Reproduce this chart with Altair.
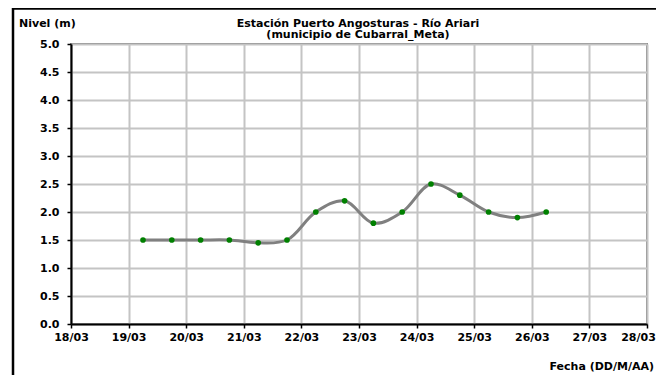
import altair as alt
import pandas as pd

# ---- data ----
times = [
    "2024-03-19T06:00:00Z", "2024-03-19T18:00:00Z",
    "2024-03-20T06:00:00Z", "2024-03-20T18:00:00Z",
    "2024-03-21T06:00:00Z", "2024-03-21T18:00:00Z",
    "2024-03-22T06:00:00Z", "2024-03-22T18:00:00Z",
    "2024-03-23T06:00:00Z", "2024-03-23T18:00:00Z",
    "2024-03-24T06:00:00Z", "2024-03-24T18:00:00Z",
    "2024-03-25T06:00:00Z", "2024-03-25T18:00:00Z",
    "2024-03-26T06:00:00Z",
]
levels = [1.5, 1.5, 1.5, 1.5, 1.45, 1.5, 2.0, 2.2, 1.8, 2.0, 2.5, 2.3, 2.0, 1.9, 2.0]
tick_days = [18, 19, 20, 21, 22, 23, 24, 25, 26, 27, 28]
y_ticks = [0.0, 0.5, 1.0, 1.5, 2.0, 2.5, 3.0, 3.5, 4.0, 4.5, 5.0]
title_lines = "Estación Puerto Angosturas - Río Ariari\n(municipio de Cubarral_Meta)"
y_title = "Nivel (m)"
x_title = "Fecha (DD/M/AA)"

FONT = "DejaVu Sans"
W, H = 576, 280

df = pd.DataFrame({"t": times, "nivel": levels})

common_axis = dict(
    title=None,
    grid=True,
    gridColor="#c4c4c4",
    gridWidth=2,
    domainColor="black",
    domainWidth=2,
    tickColor="black",
    tickWidth=1.5,
    tickSize=4,
    labelFont=FONT,
    labelFontSize=11,
    labelFontWeight="bold",
    labelColor="black",
    labelFlush=False,
    labelOverlap=False,
    labelBound=False,
)

x_enc = alt.X(
    "t:T",
    scale=alt.Scale(
        type="utc",
        domain=[alt.DateTime(year=2024, month=3, date=tick_days[0], utc=True),
                alt.DateTime(year=2024, month=3, date=tick_days[-1], utc=True)],
        nice=False,
    ),
    axis=alt.Axis(
        values=[alt.DateTime(year=2024, month=3, date=d, utc=True) for d in tick_days],
        labelExpr="utcFormat(datum.value, '%d/%m')",
        labelPadding=3,
        labelOffset={"condition": {"test": "datum.index >= 1", "value": -9}, "value": 0},
        **common_axis,
    ),
)
y_enc = alt.Y(
    "nivel:Q",
    scale=alt.Scale(domain=[0, 5], nice=False, zero=True),
    axis=alt.Axis(
        values=y_ticks,
        format=".1f",
        labelPadding=8,
        **common_axis,
    ),
)

base = alt.Chart(df)
line = base.mark_line(color="#808080", strokeWidth=3, interpolate="catmull-rom").encode(x=x_enc, y=y_enc)
points = base.mark_circle(color="#008000", size=32, opacity=1).encode(x=x_enc, y=y_enc)


def label(txt, x, y, align="left", size=11, **kw):
    return alt.Chart(pd.DataFrame({"txt": [txt]})).mark_text(
        font=FONT, fontSize=size, fontWeight="bold", color="black",
        align=align, baseline="alphabetic", **kw,
    ).encode(x=alt.value(x), y=alt.value(y), text="txt:N")


title = label(title_lines, W / 2 - 1, -17.5, align="center", size=11,
              lineBreak="\n", lineHeight=11.5)
ytitle = label(y_title, -52, -16.7)
xtitle = label(x_title, 583, 326, align="right")

frame_left = alt.Chart(pd.DataFrame({"a": [0]})).mark_rule(color="black", strokeWidth=2.5).encode(
    x=alt.value(-58), y=alt.value(-36), y2=alt.value(340)
)
frame_top = alt.Chart(pd.DataFrame({"a": [0]})).mark_rule(color="black", strokeWidth=2.5).encode(
    x=alt.value(-59), x2=alt.value(600), y=alt.value(-35.5)
)

chart = alt.layer(line, points, title, ytitle, xtitle, frame_left, frame_top).properties(
    width=W,
    height=H,
    autosize=alt.AutoSizeParams(type="none"),
    padding={"left": 63, "top": 36, "right": 9, "bottom": 51},
    background="white",
).configure_view(stroke="#808080", strokeWidth=2)

chart.save("out.html", embed_options={"renderer": "svg", "actions": False})
